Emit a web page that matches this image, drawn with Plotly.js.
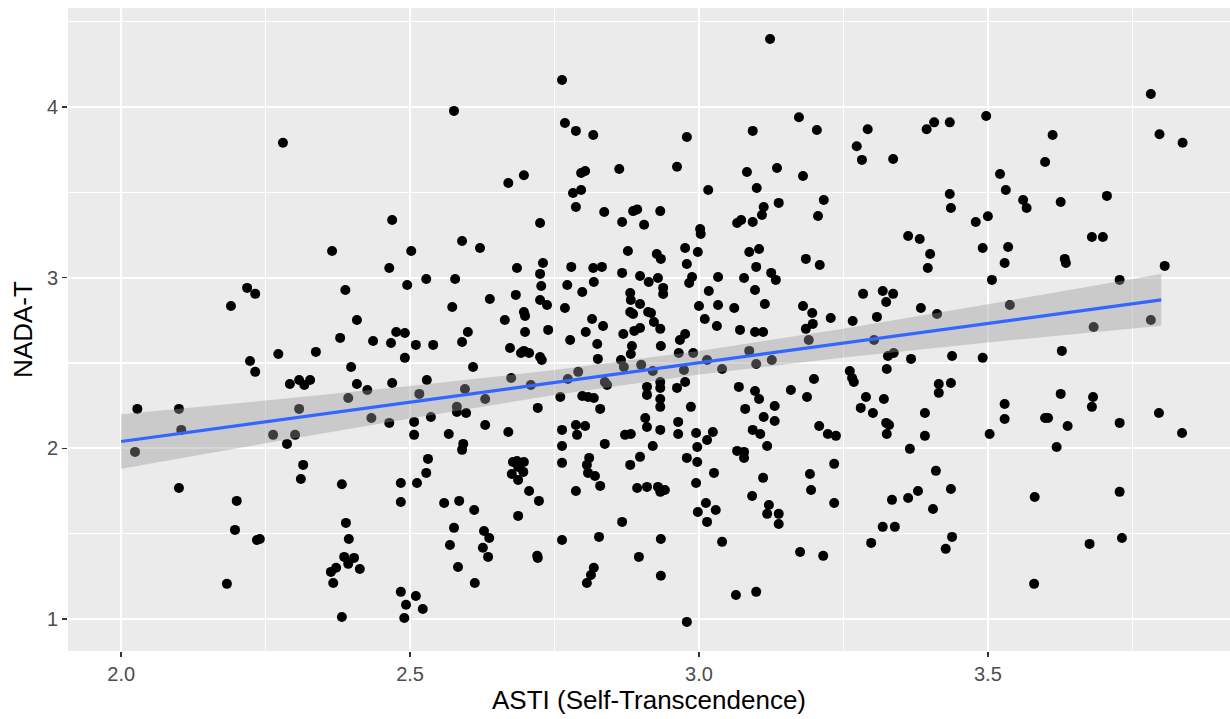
<!DOCTYPE html>
<html>
<head>
<meta charset="utf-8">
<script src="https://cdn.plot.ly/plotly-3.0.1.min.js"></script>
<style>html,body{margin:0;padding:0;background:#fff;}#chart{width:1230px;height:719px;}</style>
</head>
<body>
<div id="chart"></div>
<script>
// ASTI (x) values
const astiX = [
  2.280,
  2.763,2.576,2.768,2.787,2.817,2.697,2.670,2.796,2.803,2.862,2.782,2.796,2.787,2.836,2.886,2.893,2.469,2.725,2.867,2.905,
  3.123,3.173,3.093,3.204,2.979,2.962,3.083,3.135,3.180,3.016,3.100,2.933,3.138,3.216,3.112,3.109,3.206,3.073,3.066,3.093,3.273,3.292,3.282,3.336,3.394,3.407,
  3.434,3.497,3.782,3.797,3.837,3.612,3.599,3.521,3.531,3.561,3.567,3.626,3.706,3.434,3.436,3.500,3.479,
  2.365,2.218,2.232,2.190,2.388,2.408,2.379,2.272,2.337,2.223,2.232,2.398,2.292,2.308,2.317,2.327,2.408,2.393,2.028,2.100,2.308,2.104,2.263,2.301,
  2.024,2.287,2.315,2.311,2.382,2.100,2.200,2.197,2.235,2.240,2.389,2.394,2.386,2.403,2.393,2.413,2.363,2.372,2.367,2.183,2.382,
  2.590,2.621,2.502,2.464,2.685,2.730,2.725,2.727,2.528,2.578,
  2.495,2.779,2.817,2.832,2.818,2.772,2.798,2.867,2.877,2.898,
  2.913,2.683,2.638,2.573,2.725,2.737,2.768,2.697,2.699,2.664,
  2.881,2.882,2.898,2.881,2.886,2.912,2.815,2.834,2.804,2.869,
  2.888,2.898,2.699,2.739,2.600,2.476,2.491,2.436,2.467,2.510,
  2.540,2.590,2.777,2.824,2.884,2.882,2.673,2.692,2.697,2.706,
  2.725,2.728,2.491,2.825,2.865,2.609,2.791,2.870,2.900,2.675,
  2.773,2.709,2.837,2.841,2.469,2.529,2.426,2.516,2.595,2.630,
  2.910,2.910,2.760,2.798,2.808,2.818,2.721,2.829,2.581,2.581,
  2.597,2.433,2.464,2.536,2.507,2.630,2.670,2.507,2.567,2.763,
  2.787,2.803,2.789,2.872,2.882,2.907,2.910,
  2.592,2.590,2.531,2.528,2.484,2.512,2.484,2.559,2.585,2.611,
  2.576,2.569,2.583,2.628,2.637,2.626,2.635,2.612,2.484,2.510,
  2.493,2.522,2.490,2.678,2.685,2.697,2.687,2.696,2.676,2.687,
  2.706,2.723,2.687,2.720,2.721,2.763,2.763,2.837,2.810,2.806,
  2.808,2.820,2.829,2.787,2.898,2.881,2.893,2.910,2.867,2.827,
  2.763,2.896,2.818,2.813,2.806,
  2.920,2.997,3.014,2.979,2.997,2.995,3.026,3.066,3.078,3.078,
  3.118,3.111,3.092,3.121,3.118,3.138,3.138,2.929,2.933,2.941,
  3.012,2.998,3.029,3.014,2.934,3.040,2.934,3.064,3.099,2.979,
  3.192,3.194,3.234,3.234,3.175,3.215,3.365,3.410,3.379,3.362,
  3.334,3.405,3.318,3.339,3.298,
  3.619,3.436,3.581,3.728,3.438,3.427,3.676,3.732,3.580,
  3.002,3.003,2.976,2.998,2.927,2.934,2.979,3.087,3.104,3.185,
  3.209,3.099,3.078,3.033,2.988,2.983,2.929,2.938,2.938,3.125,
  3.133,3.017,3.097,3.000,3.033,3.061,3.114,3.180,3.196,3.228,
  3.010,3.031,3.071,3.097,3.111,3.185,3.197,2.917,2.922,2.933,
  2.967,2.976,2.934,2.965,2.990,3.190,3.087,3.014,3.099,3.126,
  3.040,2.974,2.920,2.933,2.933,2.962,2.976,2.933,2.933,2.986,
  2.964,2.933,2.964,2.995,3.024,3.069,3.097,3.104,3.080,3.131,
  3.112,3.131,3.093,3.106,3.159,3.187,3.199,3.208,3.223,3.237,
  3.266,3.284,3.318,3.336,3.324,3.308,3.362,3.382,3.400,3.396,
  3.384,3.412,3.303,3.327,3.337,3.367,3.325,3.261,3.265,3.268,
  3.289,3.320,3.280,3.301,3.391,3.324,3.329,3.325,3.391,3.415,3.415,
  3.491,3.535,3.529,3.633,3.635,3.680,3.699,3.806,3.728,3.507,
  3.538,3.683,3.782,3.438,3.491,3.628,3.436,3.626,3.682,3.680,
  3.529,3.529,3.599,3.604,3.638,3.728,3.796,3.836,3.503
];
// NADA-T (y) values, same order
const nadaY = [
  3.790,
  4.158,3.977,3.906,3.860,3.836,3.600,3.555,3.613,3.625,3.637,3.496,3.514,3.414,3.385,3.390,3.400,3.338,3.320,3.326,3.310,
  4.398,3.940,3.860,3.865,3.824,3.650,3.619,3.643,3.596,3.514,3.525,3.390,3.438,3.455,3.414,3.367,3.361,3.338,3.320,3.326,3.770,3.870,3.690,3.695,3.870,3.910,
  3.910,3.947,4.076,3.840,3.790,3.836,3.678,3.607,3.514,3.455,3.408,3.443,3.479,3.490,3.408,3.360,3.326,
  3.156,2.940,2.905,2.834,2.928,2.752,2.647,2.553,2.565,2.512,2.448,2.477,2.377,2.400,2.371,2.400,2.377,2.295,2.231,2.231,2.231,2.108,2.079,2.079,
  1.979,2.026,1.903,1.820,1.790,1.768,1.692,1.522,1.463,1.469,1.563,1.469,1.364,1.358,1.323,1.293,1.276,1.300,1.211,1.206,1.012,
  3.215,3.174,3.156,3.057,3.057,3.086,3.022,2.951,2.992,2.992,
  2.957,3.063,3.057,3.063,2.975,2.957,2.916,3.028,3.156,3.010,
  2.975,2.899,2.875,2.828,2.869,2.840,2.822,2.799,2.776,2.752,
  2.910,2.869,2.846,2.799,2.787,2.799,2.758,2.717,2.682,2.670,
  2.688,2.705,2.682,2.694,2.682,2.682,2.676,2.629,2.617,2.606,
  2.606,2.623,2.635,2.611,2.600,2.553,2.588,2.559,2.571,2.559,
  2.535,2.518,2.530,2.524,2.518,2.477,2.448,2.477,2.489,2.412,
  2.406,2.371,2.389,2.371,2.383,2.400,2.342,2.319,2.348,2.289,
  2.360,2.313,2.301,2.307,2.301,2.295,2.237,2.231,2.243,2.213,
  2.207,2.178,2.149,2.184,2.155,2.137,2.096,2.079,2.084,2.108,
  2.137,2.131,2.079,2.079,2.084,2.178,2.125,
  2.026,1.991,1.938,1.856,1.797,1.797,1.686,1.680,1.692,1.639,
  1.534,1.434,1.305,1.516,1.475,1.417,1.364,1.211,1.159,1.135,
  1.083,1.059,1.006,1.920,1.926,1.920,1.891,1.862,1.850,1.815,
  1.750,1.692,1.604,1.370,1.358,2.014,1.915,2.026,1.944,1.903,
  1.856,1.838,1.780,1.750,1.950,1.903,1.768,1.774,1.569,1.481,
  1.463,1.364,1.300,1.258,1.211,
  2.014,2.008,2.049,1.944,1.920,1.797,1.856,1.985,1.979,1.944,
  2.014,1.827,1.721,1.668,1.616,1.616,1.557,1.774,1.745,1.756,
  1.680,1.627,1.639,1.569,1.469,1.452,1.253,1.141,1.159,0.983,
  1.850,1.756,1.909,1.680,1.393,1.370,1.997,1.868,1.750,1.709,
  1.698,1.645,1.540,1.540,1.446,
  2.008,1.762,1.715,1.745,1.481,1.411,1.440,1.475,1.206,
  3.285,3.256,3.174,3.150,3.139,3.110,3.080,3.150,3.168,3.110,
  3.074,3.063,2.998,3.004,3.004,2.969,2.998,2.940,2.904,3.028,
  2.987,2.922,2.928,2.834,2.840,2.822,2.846,2.834,2.793,2.764,
  2.758,2.717,2.694,2.682,2.682,2.700,2.729,2.793,2.740,2.700,
  2.635,2.670,2.600,2.559,2.559,2.635,2.571,2.518,2.494,2.518,
  2.465,2.459,2.453,2.389,2.354,2.354,2.389,2.289,2.243,2.243,
  2.155,2.108,2.084,2.090,2.096,2.360,2.336,2.289,2.231,2.248,
  2.184,2.160,2.108,2.084,2.342,2.301,2.406,2.131,2.084,2.073,
  2.746,2.905,2.922,2.905,2.857,2.770,3.244,3.227,3.139,3.057,
  2.822,2.787,2.635,2.541,2.559,2.524,2.465,2.453,2.412,2.389,
  2.301,2.289,2.237,2.207,2.207,2.149,2.137,2.084,2.073,2.377,2.325,
  3.174,3.180,3.086,3.110,3.086,3.238,3.238,3.069,2.987,2.987,
  2.840,2.711,2.752,2.541,2.530,2.571,2.383,2.319,2.301,2.243,
  2.260,2.172,2.178,2.178,2.131,2.149,2.207,2.090,2.084
];

// Fitted line and its confidence band
const fitX = [2.0, 3.8];
const fitY = [2.04, 2.87];
const bandX = [2.0, 2.25, 2.5, 2.75, 3.0, 3.25, 3.5, 3.8];
const bandUpper = [2.20, 2.28, 2.365, 2.459, 2.57, 2.70, 2.844, 3.022];
const bandLower = [1.88, 2.03, 2.175, 2.313, 2.432, 2.532, 2.62, 2.718];

// Axis ticks
const xTickVals = [2.0, 2.5, 3.0, 3.5];
const xTickText = ["2.0", "2.5", "3.0", "3.5"];
const yTickVals = [1, 2, 3, 4];
const yTickText = ["1", "2", "3", "4"];

if (astiX.length !== nadaY.length) {
  throw new Error("length mismatch " + astiX.length + " vs " + nadaY.length);
}

const font = "Liberation Sans, Arial, sans-serif";

const traces = [
  {
    type: "scatter", mode: "markers", x: astiX, y: nadaY,
    marker: {color: "#000000", size: 10, line: {width: 0}},
    hoverinfo: "skip", showlegend: false
  },
  {
    type: "scatter", mode: "lines", x: bandX, y: bandLower,
    line: {width: 0, color: "rgba(0,0,0,0)"}, hoverinfo: "skip", showlegend: false
  },
  {
    type: "scatter", mode: "lines", x: bandX, y: bandUpper, fill: "tonexty",
    fillcolor: "rgba(153,153,153,0.4)",
    line: {width: 0, color: "rgba(0,0,0,0)"}, hoverinfo: "skip", showlegend: false
  },
  {
    type: "scatter", mode: "lines", x: fitX, y: fitY,
    line: {color: "#3366FF", width: 3.2}, hoverinfo: "skip", showlegend: false
  }
];

const layout = {
  width: 1230, height: 719,
  margin: {l: 68, r: 0, t: 8, b: 68, pad: 0},
  paper_bgcolor: "#FFFFFF",
  plot_bgcolor: "#EBEBEB",
  font: {family: font, color: "#4D4D4D"},
  xaxis: {
    range: [1.908, 3.919],
    tickmode: "array", tickvals: xTickVals, ticktext: xTickText,
    showgrid: true, gridcolor: "#FFFFFF", gridwidth: 2.2,
    minor: {tickmode: "linear", tick0: 2.25, dtick: 0.5, showgrid: true, gridcolor: "#FFFFFF", gridwidth: 1.1, ticks: ""},
    zeroline: false, showline: false,
    ticks: "outside", ticklen: 5, tickwidth: 1.6, tickcolor: "#333333",
    tickfont: {size: 20, color: "#4D4D4D", family: font},
    title: {text: "ASTI (Self-Transcendence)", font: {size: 26, color: "#000000", family: font}, standoff: 4},
    automargin: false, fixedrange: true
  },
  yaxis: {
    range: [0.8125, 4.58],
    tickmode: "array", tickvals: yTickVals, ticktext: yTickText,
    showgrid: true, gridcolor: "#FFFFFF", gridwidth: 2.2,
    minor: {tickmode: "linear", tick0: 1.5, dtick: 1, showgrid: true, gridcolor: "#FFFFFF", gridwidth: 1.1, ticks: ""},
    zeroline: false, showline: false,
    ticks: "outside", ticklen: 5, tickwidth: 1.6, tickcolor: "#333333",
    tickfont: {size: 20, color: "#4D4D4D", family: font},
    title: {text: "NADA-T", font: {size: 26, color: "#000000", family: font}, standoff: 6},
    automargin: false, fixedrange: true
  }
};

Plotly.newPlot("chart", traces, layout, {displayModeBar: false, staticPlot: true});
</script>
</body>
</html>
